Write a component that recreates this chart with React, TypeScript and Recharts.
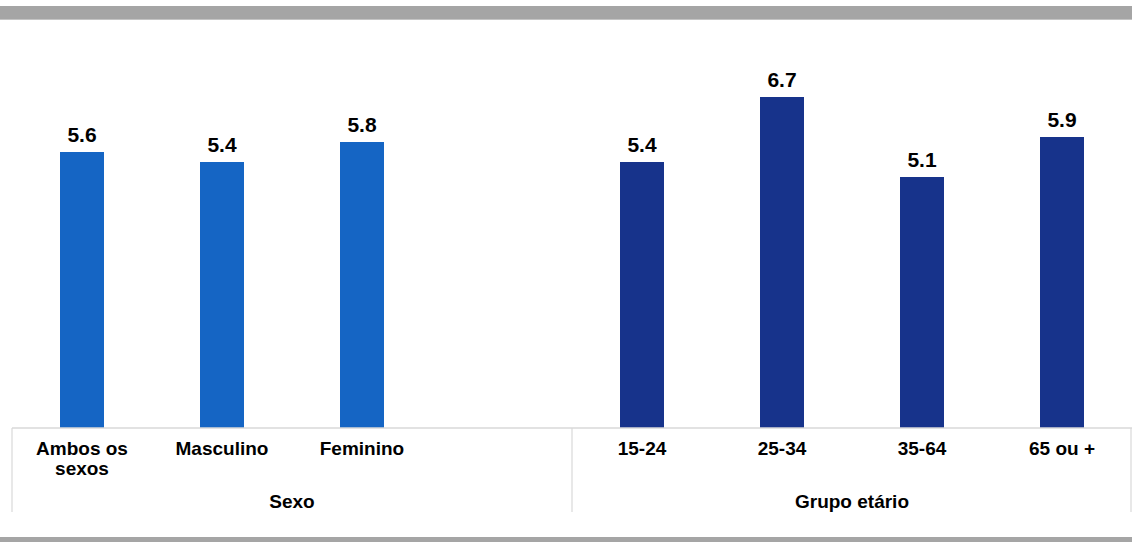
import { BarChart, Bar, XAxis, YAxis, Cell, LabelList } from 'recharts';

// one empty slot separates the two groups
const categories = ['Ambos os sexos', 'Masculino', 'Feminino', '', '15-24', '25-34', '35-64', '65 ou +'];
const values = [5.6, 5.4, 5.8, null, 5.4, 6.7, 5.1, 5.9];
const groupOf = ['sexo', 'sexo', 'sexo', 'none', 'idade', 'idade', 'idade', 'idade'];

const groupLabels = ['Sexo', 'Grupo etário'];
const groupTicks = [0, 2, 4, 6, 8]; // in slot units: borders at 0/4/8, labels at 2/6

const colors: Record<string, string> = {
  sexo: '#1565c4',
  idade: '#17338b',
  none: 'transparent',
};

const FONT = '"Liberation Sans", Arial, sans-serif';

const data = categories.map((name, i) => ({
  name,
  value: values[i],
  group: groupOf[i],
  slot: i + 0.5,
}));

function wrapWords(text: string, maxChars: number) {
  const lines: string[] = [];
  let cur = '';
  text.split(' ').forEach((w) => {
    if (cur && (cur + ' ' + w).length > maxChars) {
      lines.push(cur);
      cur = w;
    } else {
      cur = cur ? cur + ' ' + w : w;
    }
  });
  if (cur) lines.push(cur);
  return lines;
}

const CategoryTick = ({ x, y, payload }: any) => {
  const lines = wrapWords(payload.value || '', 10);
  return (
    <text x={x} y={y + 27} textAnchor="middle" fontFamily={FONT} fontSize={19} fontWeight="bold" fill="#000">
      {lines.map((l, i) => (
        <tspan key={i} x={x} dy={i === 0 ? 0 : 20}>
          {l}
        </tspan>
      ))}
    </text>
  );
};

const GroupTick = ({ x, y, payload }: any) => {
  const v = payload.value;
  if (v % 4 === 0) {
    return <line x1={x - (v === 8 ? 1 : 0)} x2={x - (v === 8 ? 1 : 0)} y1={y - 60} y2={y + 24} stroke="#d9d9d9" strokeWidth={1.2} />;
  }
  const label = groupLabels[Math.floor(v / 4)];
  return (
    <text x={x} y={y + 20} textAnchor="middle" fontFamily={FONT} fontSize={19} fontWeight="bold" fill="#000">
      {label}
    </text>
  );
};

export default function App() {
  return (
    <div style={{ position: 'fixed', left: 0, top: 0, width: 1132, height: 542, background: '#fff' }}>
      <BarChart
        width={1132}
        height={542}
        data={data}
        margin={{ top: 33, right: 0, left: 12, bottom: 0 }}
      >
        <XAxis
          dataKey="name"
          axisLine={{ stroke: '#d9d9d9', strokeWidth: 1.5 }}
          tickLine={false}
          tickSize={0}
          tickMargin={0}
          height={60}
          interval={0}
          tick={<CategoryTick />}
        />
        <XAxis
          xAxisId="grp"
          dataKey="slot"
          type="number"
          domain={[0, 8]}
          allowDataOverflow
          ticks={groupTicks}
          interval={0}
          axisLine={false}
          tickLine={false}
          tickSize={0}
          tickMargin={0}
          height={54}
          tick={<GroupTick />}
        />
        {/* bars run slightly under the axis line in the original */}
        <YAxis hide domain={[0.08, 7.98]} allowDataOverflow />
        <Bar dataKey="value" barSize={44} isAnimationActive={false}>
          {data.map((d, i) => (
            <Cell key={i} fill={colors[d.group]} />
          ))}
          <LabelList
            dataKey="value"
            position="top"
            offset={10}
            fontFamily={FONT}
            fontSize={21}
            fontWeight="bold"
            fill="#000"
            formatter={(v: any) => (v == null ? '' : Number(v).toFixed(1))}
          />
        </Bar>
      </BarChart>
      <div style={{ position: 'absolute', left: 0, top: 6, width: 1132, height: 13, background: '#a5a5a5' }} />
      <div style={{ position: 'absolute', left: 0, top: 19, width: 1132, height: 1, background: '#c4c4c4' }} />
      <div style={{ position: 'absolute', left: 0, top: 537, width: 1132, height: 5, background: '#a5a5a5' }} />
    </div>
  );
}
